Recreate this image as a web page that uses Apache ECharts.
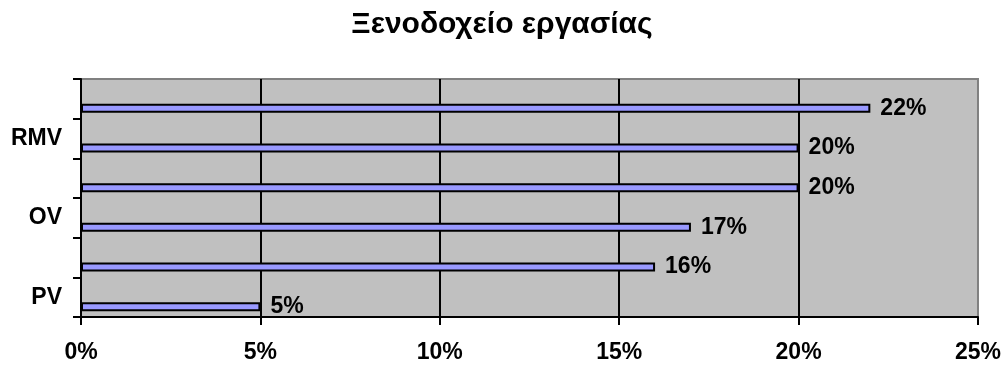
<!DOCTYPE html>
<html>
<head>
<meta charset="utf-8">
<script src="https://cdn.jsdelivr.net/npm/echarts@6/dist/echarts.min.js"></script>
<style>html,body{margin:0;padding:0;background:#fff;}#c{width:1004px;height:366px;}</style>
</head>
<body>
<div id="c"></div>
<script>
const titleText = 'Ξενοδοχείο εργασίας';
const categories = ['PV', '', 'OV', '', 'RMV', ''];
const values = [5, 16, 17, 20, 20, 22];
const xTicks = [0, 25, 5]; // min, max, interval (percent)

const chart = echarts.init(document.getElementById('c'), null, {renderer: 'canvas'});
const font = 'Arial, "Liberation Sans", sans-serif';
chart.setOption({
  animation: false,
  title: {
    text: titleText, left: 'center', top: 5,
    textStyle: {fontFamily: font, fontWeight: 'bold', fontSize: 30, color: '#000'}
  },
  grid: {
    left: 81, right: 26, top: 79, bottom: 49,
    show: true, backgroundColor: '#C0C0C0', borderColor: '#808080', borderWidth: 2
  },
  xAxis: {
    type: 'value', min: xTicks[0], max: xTicks[1], interval: xTicks[2],
    axisLine: {show: true, lineStyle: {color: '#000', width: 2}},
    axisTick: {show: true, length: 8, lineStyle: {color: '#000', width: 2}},
    axisLabel: {formatter: '{value}%', margin: 24, fontFamily: font, fontWeight: 'bold', fontSize: 23, color: '#000'},
    splitLine: {show: true, showMinLine: false, showMaxLine: false, lineStyle: {color: '#000', width: 2}}
  },
  yAxis: {
    type: 'category', data: categories,
    axisLine: {show: true, lineStyle: {color: '#000', width: 2}},
    axisTick: {show: true, interval: 0, length: 8, lineStyle: {color: '#000', width: 2}},
    axisLabel: {interval: 1, margin: 19, fontFamily: font, fontWeight: 'bold', fontSize: 23, color: '#000'},
    splitLine: {show: false}
  },
  series: [
    {
      type: 'bar', data: categories.map(() => null), barWidth: 9, barGap: '111%', silent: true
    },
    {
      type: 'bar', data: values, barWidth: 9, barGap: '111%',
      itemStyle: {color: '#9999FF', borderColor: '#000', borderWidth: 2},
      label: {show: true, position: 'right', distance: 10, formatter: '{c}%', fontFamily: font, fontWeight: 'bold', fontSize: 23, color: '#000'}
    }
  ]
});
</script>
</body>
</html>
